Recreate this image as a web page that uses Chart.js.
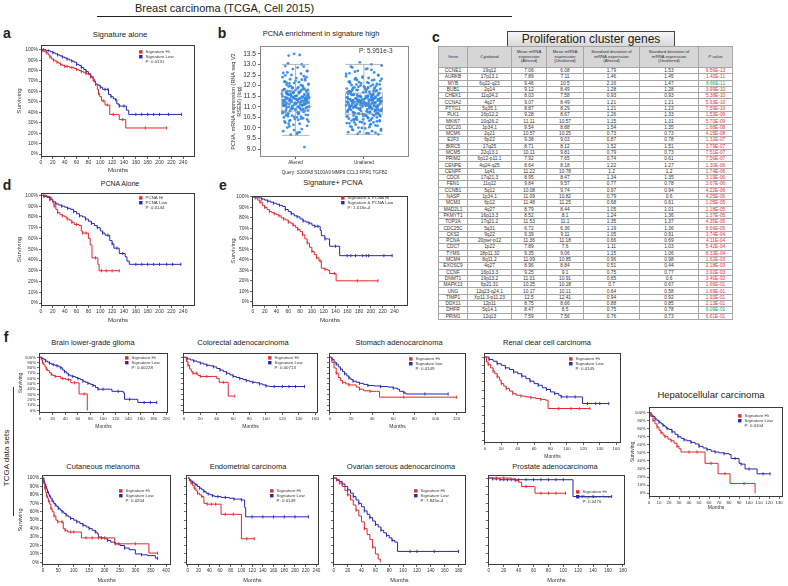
<!DOCTYPE html>
<html>
<head>
<meta charset="utf-8">
<title>Proliferation signature and survival</title>
<script src="https://cdn.jsdelivr.net/npm/chart.js@4.4.1/dist/chart.umd.min.js"></script>
<style>
  html, body { margin: 0; padding: 0; background: #fff; }
  body { position: relative; width: 788px; height: 586px; overflow: hidden;
         font-family: "Liberation Sans", Arial, sans-serif; color: #222; }
  canvas { position: absolute; }
  .txt { position: absolute; white-space: nowrap; line-height: 1; }
  .letter { font-weight: bold; }
  #title-line { position: absolute; left: 97px; top: 16px; width: 415px; height: 1px; background: #222; }
  #tcga-line { position: absolute; left: 13px; top: 387px; width: 1px; height: 129px; background: #333; }
  #genes-head { position: absolute; left: 507px; top: 31px; width: 166px; height: 15px;
                border: 1px solid #444; background: linear-gradient(#f6f6f6, #d6d6d6);
                font-size: 12px; text-align: center; line-height: 15px; }
  #tbl { position: absolute; left: 438px; top: 46px; width: 294px; border-collapse: collapse;
         table-layout: fixed; color: #333; }
  #tbl th, #tbl td { border: 1px solid #a6a6a6; padding: 0; text-align: center; overflow: hidden; }
  #tbl th { background: #d6d6d6; font-weight: normal; font-size: 4.3px; line-height: 4.8px; }
  #tbl td { font-size: 4.8px; line-height: 5px; white-space: nowrap; }
  #tbl tr.head { height: 21px; }
  #tbl tr.row { height: 6.3px; }
  #tbl td.up { color: #e8323c; }
  #tbl td.down { color: #27a548; }
</style>
</head>
<body>
<div id="title-line"></div>
<div id="tcga-line"></div>
<div id="genes-head">Proliferation cluster genes</div>
<table id="tbl">
  <colgroup>
    <col style="width:29px"><col style="width:44px"><col style="width:35px"><col style="width:37px">
    <col style="width:56px"><col style="width:59px"><col style="width:34px">
  </colgroup>
  <thead>
    <tr class="head">
      <th>Gene</th><th>Cytoband</th>
      <th>Mean mRNA<br>expression<br>(Altered)</th>
      <th>Mean mRNA<br>expression<br>(Unaltered)</th>
      <th>Standard deviation of<br>mRNA expression<br>(Altered)</th>
      <th>Standard deviation of<br>mRNA expression<br>(Unaltered)</th>
      <th><i>P</i> value</th>
    </tr>
  </thead>
  <tbody id="tbody"></tbody>
</table>
<script>
/* ---- Table c: proliferation cluster genes ---- */
const genes = ['CCNE1','AURKB','MYB','BUB1','CHEK1','CCNA2','PTTG1','PLK1','MKI67','CDC20',
  'MCM6','E2F3','BIRC5','MCM5','PRIM2','CENPE','CENPF','CDC6','FEN1','CCNB1',
  'NASP','MCM3','MAD2L1','PKMYT1','TOP2A','CDC25C','CKS2','PCNA','CDC7','TYMS',
  'MCM4','EXOSC9','CCNF','DNMT1','MAPK13','UNG','TIMP1','DDX11','DHFR','PRIM1'];
const cytobands = ['19q12','17p13.1','6q22-q23','2q14','11q24.2','4q27','5q35.1','16p12.2','10q26.2','1p34.1',
  '2q21','6p22','17q25','22q13.1','6p12-p11.1','4q24-q25','1q41','17q21.3','11q12','5q12',
  '1p34.1','6p12','4q27','16p13.3','17q21.2','5q31','9q22','20pter-p12','1p22','18p11.32',
  '8q11.2','4q27','16p13.3','19p13.2','6p21.31','12q23-q24.1','Xp11.3-p11.23','12p11','5q14.1','12q13'];
const meanAltered = [7.06,7.89,9.46,9.12,8.03,9.07,8.87,9.28,11.11,9.54,
  10.57,9.38,8.71,10.11,7.92,8.64,11.22,8.95,9.84,10.08,
  11.09,11.48,8.79,8.52,11.53,6.72,9.39,11.36,7.89,9.35,
  11.09,8.96,9.25,11.01,10.25,10.17,12.5,8.75,8.47,7.59];
const meanUnaltered = [6.08,7.11,10.5,8.49,7.58,8.49,8.29,8.67,10.57,8.88,
  10.25,9.03,8.12,9.81,7.65,8.18,10.78,8.47,9.57,9.74,
  10.82,11.25,8.44,8.1,11.1,6.36,9.11,11.18,7.6,9.06,
  10.85,8.84,9.1,10.91,10.18,10.11,12.41,8.66,8.5,7.56];
const sdAltered = [1.79,1.46,2.16,1.28,0.93,1.21,1.21,1.26,1.15,1.54,
  0.73,0.87,1.52,0.79,0.74,1.22,1.2,1.34,0.77,0.97,
  0.79,0.68,1.05,1.24,1.35,1.19,1.05,0.66,1.11,1.15,
  0.96,0.51,0.75,0.65,0.7,0.64,0.94,0.88,0.75,0.76];
const sdUnaltered = [1.53,1.45,1.47,1.28,0.93,1.21,1.23,1.33,1.31,1.35,
  0.73,0.78,1.51,0.73,0.61,1.27,1.2,1.35,0.78,0.94,
  0.6,0.61,1.01,1.36,1.37,1.36,0.91,0.69,1.03,1.06,
  0.98,0.44,0.77,0.6,0.67,0.58,0.92,0.85,0.78,0.73];
const pValues = ['9.56E-13','1.43E-11','8.66E-11','3.99E-10','5.38E-10','5.93E-10','7.59E-10','1.53E-09','5.70E-09','1.68E-08',
  '4.15E-08','1.32E-07','3.79E-07','7.51E-07','7.56E-07','1.30E-06','1.74E-06','3.19E-06','3.67E-06','4.22E-06',
  '4.25E-06','1.05E-05','1.18E-05','1.37E-05','4.35E-05','8.66E-05','3.74E-04','4.11E-04','5.42E-04','8.33E-04',
  '1.62E-03','2.18E-03','3.92E-03','3.40E-02','1.66E-01','1.69E-01','1.92E-01','2.13E-01','6.09E-01','6.61E-01'];

/* ---- Panel b: PCNA expression, altered vs unaltered ---- */
const bCategories = ['Altered', 'Unaltered'];
const bYTicks = [9.0, 9.5, 10.0, 10.5, 11.0, 11.5, 12.0, 12.5, 13.0, 13.5];
const bQuery = 'Query: S100A8 S100A9 MMP9 CCL3 FPR1 TGFB2';
const alteredY = [9.1,9.68,9.72,9.85,9.95,10.02,10.1,10.15,10.2,10.25,
  10.3,10.34,10.38,10.42,10.46,10.5,10.54,10.58,10.62,10.66,
  10.7,10.73,10.76,10.79,10.82,10.85,10.88,10.91,10.94,10.97,
  11.0,11.02,11.05,11.08,11.1,11.12,11.15,11.17,11.2,11.22,
  11.24,11.26,11.28,11.3,11.32,11.34,11.36,11.38,11.4,11.42,
  11.44,11.46,11.48,11.5,11.52,11.54,11.57,11.6,11.62,11.65,
  11.68,11.7,11.73,11.76,11.79,11.82,11.85,11.88,11.92,11.96,
  12.0,12.04,12.08,12.12,12.16,12.2,12.25,12.3,12.35,12.4,
  12.45,12.5,12.56,12.62,12.7,12.78,12.85,12.92,13.0,13.42,
  13.45,13.5,11.25,11.05,10.9,11.6,11.35,10.6,11.8,12.1,
  10.31,10.44,10.52,10.61,10.68,10.72,10.77,10.81,10.86,10.9,
  10.93,10.96,10.99,11.01,11.03,11.06,11.09,11.11,11.13,11.16,
  11.18,11.19,11.21,11.23,11.25,11.27,11.29,11.31,11.33,11.35,
  11.37,11.39,11.41,11.43,11.45,11.47,11.49,11.51,11.53,11.56,
  11.58,11.61,11.64,11.67,11.71,11.74,11.78,11.83,11.87,11.93,
  11.98,12.05,12.14,12.22,12.33,10.08,9.8,12.6,12.9,9.9,
  10.4,10.55,10.65,10.75,10.84,10.92,11.0,11.07,11.14,11.2,
  11.26,11.32,11.38,11.44,11.5,11.55,11.63,11.69,11.76,11.84,
  11.9,12.02,12.18,12.4,10.2,10.5,11.1,11.3,11.45,11.6,
  10.95,11.15,11.4,11.7,12.28,10.36,12.68,12.48,9.78,13.05];
const alteredJitter = [0.13,-0.07,0.02,-0.18,0.09,-0.12,0.17,-0.03,0.06,-0.15,
  0.19,-0.09,0.04,-0.01,0.11,-0.17,0.08,-0.05,0.15,-0.11,
  -0.19,0.03,0.12,-0.08,0.18,-0.14,0.0,0.07,-0.04,0.16,
  -0.1,0.05,-0.16,0.1,-0.02,0.14,-0.13,0.01,0.19,-0.06,
  0.08,-0.18,0.12,-0.09,0.03,-0.15,0.17,-0.01,0.06,-0.12,
  0.15,-0.04,0.09,-0.19,0.02,-0.07,0.13,-0.11,0.18,-0.03,
  -0.14,0.07,-0.08,0.16,0.0,-0.17,0.11,-0.05,0.04,-0.1,
  0.1,-0.13,0.19,-0.02,0.05,-0.16,0.14,-0.08,0.01,-0.19,
  0.12,-0.06,0.08,-0.12,0.17,-0.04,0.03,-0.15,0.09,-0.1,
  0.06,-0.02,0.15,-0.18,0.11,-0.07,0.02,-0.14,0.18,-0.09,
  -0.16,0.08,-0.02,0.18,-0.11,0.05,-0.19,0.13,0.0,-0.07,
  0.15,-0.13,0.03,0.19,-0.05,0.1,-0.17,0.07,-0.09,0.16,
  -0.01,0.12,-0.14,0.04,0.17,-0.08,0.09,-0.18,0.02,0.14,
  -0.12,0.06,-0.03,0.2,-0.15,0.11,-0.06,0.01,0.18,-0.1,
  0.13,-0.2,0.05,-0.04,0.16,-0.12,0.08,-0.16,0.03,0.11,
  -0.07,0.19,-0.13,0.0,0.14,-0.09,0.06,-0.18,0.12,-0.02,
  0.17,-0.11,0.04,-0.15,0.09,-0.05,0.2,-0.14,0.01,0.07,
  -0.17,0.15,-0.08,0.1,-0.01,0.18,-0.12,0.05,-0.19,0.13,
  -0.04,0.08,-0.16,0.16,-0.1,0.02,0.12,-0.06,0.19,-0.13,
  0.06,-0.18,0.14,-0.03,0.09,-0.08,0.17,-0.15,0.03,-0.11];
const unalteredY = [9.7,9.72,9.75,9.8,9.85,9.9,9.95,10.0,10.04,10.08,
  10.12,10.16,10.2,10.23,10.26,10.29,10.32,10.35,10.38,10.41,
  10.44,10.47,10.5,10.52,10.55,10.58,10.6,10.63,10.66,10.68,
  10.7,10.73,10.75,10.78,10.8,10.83,10.85,10.88,10.9,10.92,
  10.95,10.97,11.0,11.02,11.04,11.06,11.08,11.1,11.12,11.14,
  11.16,11.18,11.2,11.22,11.24,11.26,11.28,11.3,11.32,11.34,
  11.36,11.38,11.4,11.42,11.44,11.46,11.48,11.5,11.53,11.56,
  11.59,11.62,11.65,11.68,11.71,11.74,11.77,11.8,11.83,11.86,
  11.9,11.94,11.98,12.02,12.06,12.1,12.15,12.2,12.25,12.3,
  12.36,12.42,12.48,12.55,12.62,12.7,12.78,12.86,12.95,13.1,
  10.4,10.65,10.85,11.05,11.15,11.25,11.35,11.55,11.7,11.9,
  10.1,10.95,11.45,12.0,9.78,10.55,11.1,11.6,12.35,11.0,
  10.05,10.18,10.27,10.36,10.43,10.49,10.54,10.59,10.64,10.69,
  10.72,10.76,10.79,10.82,10.86,10.89,10.91,10.94,10.96,10.99,
  11.01,11.03,11.05,11.07,11.09,11.11,11.13,11.15,11.17,11.19,
  11.21,11.23,11.25,11.27,11.29,11.31,11.33,11.35,11.37,11.39,
  11.41,11.43,11.47,11.51,11.54,11.58,11.61,11.66,11.7,11.75,
  11.79,11.84,11.88,11.93,11.99,12.05,12.12,12.18,12.27,12.38,
  12.5,12.66,12.8,12.9,13.0,9.82,9.88,9.93,9.98,10.14,
  10.22,10.31,10.39,10.46,10.57,10.61,10.71,10.74,10.81,10.87,
  10.93,10.98,11.02,11.06,11.1,11.14,11.18,11.22,11.26,11.3,
  11.34,11.38,11.42,11.46,11.52,11.57,11.64,11.72,11.81,11.92,
  12.04,12.16,12.32,12.58,10.34,10.66,10.84,11.0,11.12,11.24,
  11.36,11.49,11.62,11.78,11.96,12.22,10.48,10.77,11.08,11.2,
  11.28,11.44,11.68,12.08,10.26,10.56,10.9,11.16,11.32,11.56,
  11.86,12.44,9.74,10.02,10.62,11.04,11.4,11.74,12.12,12.74,
  10.41,10.8,11.07,11.33,11.6,11.9,12.26,10.7,11.19,11.5];
const unalteredJitter = [0.21,-0.09,0.04,-0.23,0.12,-0.16,0.25,-0.03,0.08,-0.2,
  0.17,-0.12,0.01,-0.25,0.14,-0.06,0.23,-0.18,0.1,-0.01,
  -0.22,0.06,0.19,-0.11,0.24,-0.15,0.02,0.13,-0.07,0.2,
  -0.13,0.09,-0.24,0.16,-0.04,0.22,-0.19,0.05,0.26,-0.08,
  0.11,-0.21,0.18,-0.14,0.03,-0.26,0.15,-0.02,0.07,-0.17,
  0.24,-0.05,0.12,-0.23,0.0,-0.1,0.2,-0.16,0.09,-0.03,
  -0.2,0.14,-0.12,0.25,0.04,-0.24,0.17,-0.07,0.06,-0.15,
  0.13,-0.19,0.22,-0.01,0.08,-0.22,0.19,-0.11,0.02,-0.25,
  0.16,-0.08,0.1,-0.18,0.23,-0.04,0.05,-0.21,0.12,-0.13,
  0.07,-0.02,0.21,-0.26,0.15,-0.09,0.03,-0.17,0.26,-0.06,
  -0.14,0.18,-0.23,0.09,0.0,0.24,-0.1,0.13,-0.2,0.06,
  0.2,-0.16,0.11,-0.05,0.17,-0.24,0.01,0.22,-0.12,0.08,
  -0.18,0.1,-0.03,0.23,-0.12,0.06,-0.25,0.15,0.01,-0.08,
  0.19,-0.16,0.04,0.25,-0.06,0.12,-0.21,0.08,-0.11,0.2,
  -0.02,0.15,-0.18,0.05,0.22,-0.1,0.11,-0.23,0.03,0.17,
  -0.14,0.07,-0.04,0.26,-0.19,0.13,-0.07,0.0,0.23,-0.12,
  0.16,-0.25,0.06,-0.05,0.2,-0.15,0.09,-0.2,0.03,0.14,
  -0.09,0.24,-0.16,0.01,0.18,-0.11,0.07,-0.22,0.15,-0.02,
  0.21,-0.13,0.05,-0.19,0.11,-0.06,0.25,-0.17,0.02,0.09,
  -0.21,0.19,-0.1,0.12,-0.01,0.23,-0.15,0.06,-0.24,0.16,
  -0.05,0.1,-0.2,0.2,-0.12,0.03,0.15,-0.08,0.24,-0.16,
  0.07,-0.23,0.17,-0.04,0.11,-0.1,0.22,-0.19,0.04,-0.14,
  0.13,-0.07,0.26,-0.21,0.08,-0.02,0.18,-0.13,0.05,-0.25,
  0.21,-0.09,0.14,-0.17,0.0,0.24,-0.11,0.09,-0.22,0.16,
  -0.06,0.12,-0.24,0.19,-0.14,0.04,0.2,-0.03,0.1,-0.18,
  0.15,-0.26,0.07,-0.08,0.23,-0.12,0.02,0.17,-0.2,0.11,
  -0.15,0.25,-0.05,0.13,-0.23,0.06,-0.1,0.21,-0.17,0.03];
const boxLow = [9.65, 9.7];
const boxQ1 = [10.8, 10.65];
const boxMedian = [11.22, 11.12];
const boxQ3 = [11.75, 11.65];
const boxHigh = [13.0, 13.0];

/* ---- Kaplan-Meier curves: [months, % surviving, 1 = censored] ---- */
const pctTicks = [0, 10, 20, 30, 40, 50, 60, 70, 80, 90, 100];
const ticks240by20 = [0, 20, 40, 60, 80, 100, 120, 140, 160, 180, 200, 220, 240];
const ticks200by20 = [0, 20, 40, 60, 80, 100, 120, 140, 160, 180, 200];
const ticks160by20 = [0, 20, 40, 60, 80, 100, 120, 140, 160];
const ticks120by20 = [0, 20, 40, 60, 80, 100, 120];
const ticks180by20 = [0, 20, 40, 60, 80, 100, 120, 140, 160, 180];
const ticks130by10 = [0, 10, 20, 30, 40, 50, 60, 70, 80, 90, 100, 110, 120, 130];
const ticks400by50 = [0, 50, 100, 150, 200, 250, 300, 350, 400];

const aHi = [[0,100],[3,99,1],[6,98],[9,97,1],[12,95],[15,93,1],[18,91],[21,90,1],[24,89],[27,88,1],
  [30,87],[33,86,1],[36,85],[40,84,1],[44,84,1],[48,83],[52,83,1],[56,82],[60,81,1],[64,80],
  [68,79,1],[72,78],[76,77,1],[80,76],[84,74,1],[88,72],[90,69],[92,67,1],[95,62],[97,58,1],
  [99,55],[102,51],[105,51,1],[108,47],[112,47,1],[116,38],[122,38,1],[126,38],[132,33],[138,33,1],
  [143,25],[176,25,1],[212,25,1]];
const aLow = [[0,100],[4,100,1],[8,99],[12,99,1],[16,98],[20,97,1],[24,96],[28,95,1],[32,94],[36,93,1],
  [40,92],[44,91,1],[48,90],[52,89,1],[56,88],[60,86,1],[64,85],[68,83,1],[72,81],[76,79,1],
  [80,77],[84,74,1],[88,70],[92,67,1],[96,66],[100,64,1],[104,62],[108,62,1],[113,62,1],[114,57],
  [118,55,1],[122,53],[126,52,1],[128,48],[132,46,1],[140,46,1],[144,42],[148,38],[160,38,1],[170,38,1],
  [180,38,1],[190,38,1],[200,38,1],[215,38,1],[237,38,1]];
const dHi = [[0,100],[5,100,1],[10,99],[15,98,1],[18,96],[20,93],[22,90,1],[25,87],[28,84,1],[32,82],
  [36,81,1],[40,80],[44,78,1],[48,77],[52,75,1],[56,73],[60,73,1],[64,72],[68,67],[70,65,1],
  [76,65,1],[80,60],[83,54],[86,42],[92,42,1],[96,36],[98,30],[102,30,1],[110,30,1],[120,30,1],[132,30,1]];
const dLow = [[0,100],[5,99,1],[10,98],[15,96,1],[20,94],[25,92,1],[30,91],[35,90,1],[40,89],[45,88,1],
  [50,87],[55,85,1],[60,83],[65,81,1],[70,80],[75,78,1],[80,76],[85,74,1],[90,72],[95,70,1],
  [100,67],[104,65,1],[108,63],[113,63,1],[116,58],[120,55,1],[123,51],[128,51,1],[132,46],[138,46,1],
  [142,43],[145,39],[149,36],[160,36,1],[170,36,1],[180,36,1],[190,36,1],[200,36,1],[212,36,1],[222,36,1],[236,36,1]];
const eHi = [[0,100],[4,99,1],[8,97],[12,95,1],[16,92],[20,90,1],[24,88],[28,86,1],[32,85],[36,84,1],
  [40,83],[44,82,1],[48,80],[52,79,1],[56,78],[60,76,1],[64,75],[68,73,1],[72,71],[76,69,1],
  [80,67],[84,64,1],[88,60],[92,56,1],[96,52],[100,48,1],[104,45],[108,42,1],[112,39],[114,39,1],
  [116,32],[122,31,1],[127,30],[130,27],[138,27,1],[141,20],[177,20,1],[212,20,1]];
const eLow = [[0,100],[5,100,1],[10,99],[15,98,1],[20,97],[25,96,1],[30,95],[35,94,1],[40,93],[45,92,1],
  [50,91],[55,88,1],[60,86],[65,84,1],[70,82],[75,81,1],[80,79],[85,77,1],[90,76],[95,75,1],
  [100,73],[105,72,1],[110,72,1],[114,68],[116,63],[122,60,1],[126,60],[130,53],[140,53,1],[144,53],
  [147,44],[160,44,1],[166,44,1],[174,44,1],[186,44,1],[192,44,1],[196,44,1],[222,44,1],[236,44,1]];
const brainHi = [[0,100],[2,95],[4,90,1],[6,86],[8,82],[10,78,1],[12,75],[15,71],[18,68,1],[20,66],
  [24,64,1],[28,64],[33,60],[36,60,1],[41,58],[45,58,1],[49,52],[55,52,1],[62,31],[70,31,1],[75,0]];
const brainLow = [[0,100],[3,98,1],[6,96],[9,93,1],[12,91],[15,89,1],[18,87],[21,86,1],[24,85],[27,84,1],
  [30,82],[33,80,1],[36,76],[39,73,1],[42,70],[45,67,1],[48,65],[52,64,1],[56,62],[60,60,1],
  [64,58],[68,55,1],[72,53],[76,51,1],[80,49],[84,47,1],[88,43],[92,40,1],[100,40,1],[112,40],
  [114,36],[124,36,1],[132,33],[134,21],[142,21,1],[152,21],[155,15],[165,15,1],[175,15,1],[185,15,1]];
const colorectalHi = [[0,100],[3,92],[5,85,1],[7,78],[9,73],[11,70,1],[15,70,1],[17,66],[20,64,1],[28,64,1],
  [36,64],[40,60],[43,53],[48,53,1],[53,53],[54,27],[62,27,1]];
const colorectalLow = [[0,100],[4,97,1],[8,95],[12,93,1],[16,91],[20,89,1],[24,87],[28,85,1],[32,84],[36,82,1],
  [40,79],[44,76,1],[48,73],[52,70,1],[56,67],[60,64,1],[64,62],[68,60,1],[72,58],[76,56,1],
  [80,54],[84,53,1],[88,52],[92,50,1],[96,48],[100,46,1],[104,45],[110,45,1],[120,45,1],[128,45,1],
  [136,45,1],[147,45,1]];
const stomachHi = [[0,100],[2,90],[4,80],[6,70,1],[8,62],[10,56],[12,53,1],[15,50],[18,48,1],[22,48],
  [25,44],[28,40,1],[32,37],[38,36,1],[44,36],[47,25],[70,25,1],[120,25,1]];
const stomachLow = [[0,100],[2,96,1],[4,91],[6,87,1],[8,82],[10,78,1],[12,73],[14,69,1],[16,65],[18,61,1],
  [20,58],[22,55,1],[25,53],[28,51,1],[32,49],[36,47,1],[42,46],[48,45,1],[55,44],[60,42,1],
  [64,40],[66,36],[70,33,1],[72,31],[90,31,1],[112,31,1]];
const renalHi = [[0,100],[2,94],[4,91,1],[7,87],[10,83,1],[12,80],[15,76,1],[18,72],[20,68,1],[23,65],
  [26,62,1],[30,59],[34,56,1],[38,54],[44,53,1],[50,52],[56,51,1],[62,50],[68,49,1],[74,48],
  [77,38],[90,38,1],[105,38,1],[115,38,1],[128,38,1]];
const renalLow = [[0,100],[5,97,1],[10,95],[15,92,1],[20,90],[25,87,1],[30,85],[35,82,1],[40,80],[45,77,1],
  [50,74],[55,71,1],[60,68],[65,66,1],[70,63],[75,61,1],[80,58],[85,56,1],[90,54],[93,52,1],
  [100,52,1],[110,52,1],[118,52],[119,44],[125,44,1],[135,44,1],[140,44,1],[151,44,1]];
const liverHi = [[0,100],[2,95],[4,90,1],[6,86],[8,82,1],[10,78],[12,75,1],[14,72],[16,70,1],[19,67],
  [22,65,1],[25,62],[28,58,1],[30,55],[32,51],[40,51,1],[48,51,1],[55,51],[56,37],[62,37,1],
  [68,37],[69,24],[76,24,1],[81,12],[95,12,1],[105,12],[106,0]];
const liverLow = [[0,100],[2,97,1],[4,95],[6,92,1],[8,90],[10,88,1],[12,86],[14,84,1],[16,82],[18,80,1],
  [20,79],[23,76,1],[26,73],[29,70,1],[32,68],[35,66,1],[38,65],[42,63,1],[46,61],[50,58,1],
  [54,56],[58,54,1],[62,52],[66,51,1],[70,50],[75,49,1],[80,48],[82,43],[86,43,1],[90,37],
  [92,36,1],[96,30],[100,30,1],[105,30],[108,24],[114,24,1],[121,24,1]];
const melanomaHi = [[0,100],[3,93],[6,88,1],[9,83],[12,79,1],[15,76],[18,73,1],[22,69],[26,64,1],[30,60],
  [36,55,1],[42,50],[48,48,1],[56,48],[62,48,1],[66,40],[72,38,1],[80,36],[90,36,1],[100,36,1],
  [115,36],[125,29],[140,29,1],[160,29,1],[180,29,1],[200,29,1],[230,29],[233,22],[245,22,1],[300,22,1],
  [341,22],[344,11],[372,11,1]];
const melanomaLow = [[0,100],[3,96,1],[6,93],[9,90,1],[12,87],[15,84,1],[18,81],[21,79,1],[25,76],[30,73,1],
  [35,70],[40,68,1],[45,66],[50,64,1],[56,62],[62,60,1],[68,58],[75,56,1],[82,54],[90,52,1],
  [100,50],[110,48,1],[120,46],[130,44,1],[140,42],[150,40,1],[160,38],[170,36,1],[176,34],[180,30],
  [190,29,1],[200,28],[210,26,1],[220,24],[235,22,1],[250,20],[265,17,1],[280,15],[300,10],[320,9,1],
  [340,8],[365,5],[372,5,1]];
const endometrialHi = [[0,100],[3,97],[6,94,1],[9,91],[12,88,1],[15,85],[18,82,1],[22,80],[26,78,1],[30,70],
  [36,69,1],[44,69,1],[52,69,1],[60,69],[62,57],[70,57,1],[85,57,1],[99,57],[100,28],[110,28,1],[124,28,1]];
const endometrialLow = [[0,100],[3,98,1],[6,96],[9,95,1],[12,93],[15,92,1],[18,90],[22,88,1],[26,86],[30,84,1],
  [34,82],[38,81,1],[42,80],[46,79,1],[50,78],[56,78,1],[62,77],[70,77,1],[78,76],[86,75,1],
  [94,75],[100,74,1],[104,74],[106,65],[108,54],[120,54,1],[140,54,1],[160,54,1],[180,54,1],[200,54,1],[225,54,1]];
const ovarianHi = [[0,100],[4,97],[8,94,1],[12,90],[16,85],[20,80,1],[24,74],[28,68],[32,62,1],[36,55],
  [40,48],[44,40,1],[48,33],[52,27],[56,18,1],[60,10],[64,4],[67,0]];
const ovarianLow = [[0,100],[4,98,1],[8,96],[12,93,1],[16,90],[20,86,1],[24,82],[28,78,1],[32,74],[36,70,1],
  [40,66],[44,61,1],[48,57],[52,53,1],[56,49],[60,45,1],[64,42],[68,38,1],[72,35],[76,32,1],
  [80,29],[84,26,1],[88,24],[92,13],[110,13,1],[120,13,1],[145,13,1],[180,13,1]];
const prostateHi = [[0,100],[10,100,1],[20,100,1],[30,99],[36,97,1],[40,95],[44,90],[50,90,1],[61,90],[62,82],
  [70,82,1],[80,82,1],[90,82,1],[103,82,1]];
const prostateLow = [[0,100],[5,99,1],[10,99,1],[15,98,1],[20,98,1],[25,98,1],[30,98,1],[35,98,1],[40,98,1],[50,98,1],
  [60,98,1],[70,98,1],[80,98,1],[90,98,1],[100,98,1],[112,98],[113,78],[125,78,1],[140,78,1],[165,78,1]];

/* ------------------------------------------------------------------ */
/*  Shared helpers                                                     */
/* ------------------------------------------------------------------ */

const HI = '#e2262b';
const LOW = '#2626b4';
const FONT = '"Liberation Sans", Arial, sans-serif';
Chart.defaults.font.family = FONT;
Chart.defaults.color = '#333';

function addText(text, x, y, size, opts = {}) {
  const el = document.createElement('div');
  el.className = 'txt' + (opts.bold ? ' letter' : '');
  el.textContent = text;
  el.style.fontSize = size + 'px';
  el.style.left = x + 'px';
  el.style.top = y + 'px';
  const tx = opts.left ? '0' : '-50%';
  el.style.transform = `translate(${tx}, -50%)` + (opts.rotate ? ` rotate(${opts.rotate}deg)` : '');
  document.body.appendChild(el);
}

// canvas whose chart area lands on box [left, top, right, bottom]
function place(box, yw, xh) {
  const c = document.createElement('canvas');
  const left = box[0] - yw, top = box[1] - 1;
  c.width = box[2] - left + 1;
  c.height = box[3] + xh - top;
  c.style.left = left + 'px';
  c.style.top = top + 'px';
  document.body.appendChild(c);
  return c;
}

const framePlugin = {
  id: 'frame',
  afterDatasetsDraw(chart, args, o) {
    const { ctx, chartArea: a } = chart;
    ctx.save();
    ctx.strokeStyle = o.color || '#3a3a3a';
    ctx.lineWidth = 1;
    ctx.strokeRect(Math.round(a.left) + 0.5, Math.round(a.top) + 0.5,
      Math.round(a.width) - 1, Math.round(a.height) - 1);
    ctx.restore();
  }
};

const legendPlugin = {
  id: 'kmLegend',
  afterDraw(chart, args, o) {
    if (!o.items) return;
    const { ctx, chartArea: a } = chart;
    const x0 = a.right - o.right, y0 = a.top + o.top;
    ctx.save();
    ctx.font = o.size + 'px ' + FONT;
    ctx.textBaseline = 'middle';
    o.items.forEach((it, i) => {
      const y = y0 + i * o.lh;
      if (it.color) {
        ctx.fillStyle = it.color;
        ctx.fillRect(x0, y - 1.7, 3.4, 3.4);
      }
      ctx.fillStyle = '#333';
      ctx.fillText(it.text, x0 + (o.indent !== undefined ? o.indent : 6.5), y);
    });
    ctx.restore();
  }
};

const boxPlugin = {
  id: 'boxes',
  afterDatasetsDraw(chart, args, o) {
    if (!o.half) return;
    const { ctx, scales: { x, y } } = chart;
    ctx.save();
    ctx.strokeStyle = 'rgba(150,150,150,0.85)';
    ctx.lineWidth = 0.8;
    bCategories.forEach((_, i) => {
      const l = x.getPixelForValue(i - o.half[i]), r = x.getPixelForValue(i + o.half[i]);
      const c = x.getPixelForValue(i);
      const q1 = y.getPixelForValue(boxQ1[i]), q3 = y.getPixelForValue(boxQ3[i]);
      const md = y.getPixelForValue(boxMedian[i]);
      const lo = y.getPixelForValue(boxLow[i]), hi = y.getPixelForValue(boxHigh[i]);
      ctx.strokeRect(l, q3, r - l, q1 - q3);
      ctx.beginPath();
      ctx.moveTo(l, md); ctx.lineTo(r, md);
      ctx.moveTo(c, q3); ctx.lineTo(c, hi);
      ctx.moveTo(c, q1); ctx.lineTo(c, lo);
      ctx.moveTo(l, hi); ctx.lineTo(r, hi);
      ctx.moveTo(l, lo); ctx.lineTo(r, lo);
      ctx.stroke();
    });
    ctx.restore();
  }
};

const axisGrid = { drawOnChartArea: false, drawTicks: true, tickLength: 2, color: '#444', lineWidth: 0.8 };

function curve(points, color) {
  return {
    data: points.map(p => ({ x: p[0], y: p[1], c: p[2] === 1 })),
    borderColor: color,
    borderWidth: 1,
    stepped: true,
    fill: false,
    pointStyle: 'line',
    pointRotation: 90,
    pointRadius: ctx => (ctx.raw && ctx.raw.c ? 1.6 : 0),
    pointBorderColor: color,
    pointBackgroundColor: color,
    pointBorderWidth: 0.9
  };
}

/* ------------------------------------------------------------------ */
/*  Kaplan-Meier panel                                                 */
/* ------------------------------------------------------------------ */

function kmChart(box, yw, xh, o) {
  return new Chart(place(box, yw, xh), {
    type: 'line',
    data: { datasets: [curve(o.hi, HI), curve(o.low, LOW)] },
    options: {
      responsive: false,
      animation: false,
      events: [],
      layout: { padding: { top: 1, right: 1 } },
      plugins: {
        legend: { display: false },
        tooltip: { enabled: false },
        frame: { color: '#3a3a3a' },
        kmLegend: {
          right: o.legend[0], top: o.legend[1], size: 4.4, lh: 4.8,
          items: [{ color: HI, text: o.labels[0] }, { color: LOW, text: o.labels[1] }, { text: o.labels[2] }]
        }
      },
      scales: {
        x: {
          type: 'linear', min: o.x[0], max: o.x[1],
          afterBuildTicks: s => { s.ticks = o.xTicks.map(v => ({ value: v })); },
          afterFit: s => { s.height = xh; s.paddingLeft = 0; s.paddingRight = 0; },
          ticks: { callback: v => String(v), font: { size: o.font }, padding: 1, maxRotation: 0, autoSkip: false },
          grid: axisGrid,
          border: { display: false },
          title: { display: true, text: 'Months', font: { size: o.titleFont }, padding: 0 }
        },
        y: {
          min: o.y[0], max: o.y[1],
          afterBuildTicks: s => { s.ticks = pctTicks.map(v => ({ value: v })); },
          afterFit: s => { s.width = yw; s.paddingTop = 0; s.paddingBottom = 0; },
          ticks: { display: o.yLabels, callback: v => v + '%', font: { size: o.font }, padding: 1, autoSkip: false },
          grid: axisGrid,
          border: { display: false },
          title: { display: o.yLabels, text: 'Surviving', font: { size: o.titleFont }, padding: 0 }
        }
      }
    },
    plugins: [framePlugin, legendPlugin]
  });
}

/* ------------------------------------------------------------------ */
/*  Static text                                                        */
/* ------------------------------------------------------------------ */

addText('Breast carcinoma (TCGA, Cell 2015)', 135, 8, 11, { left: true });
addText('a', 7, 33, 14, { bold: true });
addText('b', 222, 33, 14, { bold: true });
addText('c', 436, 37, 14, { bold: true });
addText('d', 7, 185, 14, { bold: true });
addText('e', 223, 185, 14, { bold: true });
addText('f', 6, 337, 14, { bold: true });
addText('Signature alone', 120, 35, 7.8);
addText('PCNA enrichment in signature high', 321, 34, 7.5);
addText('PCNA Alone', 120, 183, 7);
addText('Signature+ PCNA', 333, 183, 7.5);
addText('Brain lower-grade glioma', 93, 343, 7.5);
addText('Colorectal adenocarcinoma', 243, 343, 7.5);
addText('Stomach adenocarcinoma', 399, 343, 7.5);
addText('Renal clear cell carcinoma', 547, 343, 7.5);
addText('Hepatocellular carcinoma', 711, 395, 9.5);
addText('Cutaneous melanoma', 103, 467, 7.5);
addText('Endometrial carcinoma', 248, 467, 7.5);
addText('Ovarian serous adenocarcinoma', 401, 467, 7.5);
addText('Prostate adenocarcinoma', 555, 467, 7.5);
addText('TCGA data sets', 7, 458, 8, { rotate: -90 });

/* ---- Table rows ---- */
document.getElementById('tbody').innerHTML = genes.map((g, i) => {
  const dir = meanAltered[i] < meanUnaltered[i] ? 'down' : 'up';
  return `<tr class="row"><td>${g}</td><td>${cytobands[i]}</td><td>${meanAltered[i]}</td>` +
    `<td>${meanUnaltered[i]}</td><td>${sdAltered[i]}</td><td>${sdUnaltered[i]}</td>` +
    `<td class="${dir}">${pValues[i]}</td></tr>`;
}).join('');

/* ------------------------------------------------------------------ */
/*  Panel b: jittered expression with box plots                        */
/* ------------------------------------------------------------------ */

new Chart(place([260, 43, 412, 157], 32, 18), {
  type: 'scatter',
  data: {
    datasets: [
      { data: alteredY.map((v, i) => ({ x: 0 + alteredJitter[i], y: v })) },
      { data: unalteredY.map((v, i) => ({ x: 1 + unalteredJitter[i], y: v })) }
    ]
  },
  options: {
    responsive: false,
    animation: false,
    events: [],
    layout: { padding: { top: 1, right: 1 } },
    elements: { point: { radius: 1.4, borderWidth: 0, backgroundColor: 'rgba(45,135,228,0.9)' } },
    plugins: {
      legend: { display: false },
      tooltip: { enabled: false },
      frame: { color: '#8a8a8a' },
      boxes: { half: [0.2, 0.27] },
      kmLegend: { right: 50, top: 5, size: 6.5, lh: 7, indent: 0, items: [{ text: 'P: 5.951e-3' }] }
    },
    scales: {
      x: {
        type: 'linear', min: -0.52, max: 1.66,
        afterBuildTicks: s => { s.ticks = bCategories.map((_, i) => ({ value: i })); },
        afterFit: s => { s.height = 18; s.paddingLeft = 0; s.paddingRight = 0; },
        ticks: { callback: (v, i) => bCategories[i], font: { size: 4.6 }, padding: 1, maxRotation: 0 },
        grid: axisGrid,
        border: { display: false },
        title: { display: true, text: bQuery, font: { size: 4.6 }, padding: 0 }
      },
      y: {
        min: 8.63, max: 13.87,
        afterBuildTicks: s => { s.ticks = bYTicks.map(v => ({ value: v })); },
        afterFit: s => { s.width = 32; s.paddingTop = 0; s.paddingBottom = 0; },
        ticks: { callback: v => v.toFixed(1), font: { size: 6.6 }, padding: 2, autoSkip: false },
        grid: axisGrid,
        border: { display: false },
        title: { display: true, text: ['PCNA, mRNA expression (RNA seq V2', 'RSEM) (log)'],
                 font: { size: 5.5 }, padding: { top: 2, bottom: 0 } }
      }
    }
  },
  plugins: [framePlugin, boxPlugin, legendPlugin]
});

/* ------------------------------------------------------------------ */
/*  Kaplan-Meier panels a, d, e, f                                     */
/* ------------------------------------------------------------------ */

kmChart([41, 41, 199, 157], 25, 17, { hi: aHi, low: aLow, x: [0, 260], y: [-2.8, 104.6], xTicks: ticks240by20,
  yLabels: true, font: 5, titleFont: 6.2, legend: [56, 7], labels: ['Signature Hi', 'Signature Low', 'P: 0.0131'] });
kmChart([41, 189, 199, 306], 25, 18, { hi: dHi, low: dLow, x: [0, 260], y: [-2.7, 102.3], xTicks: ticks240by20,
  yLabels: true, font: 5, titleFont: 6.2, legend: [56, 5], labels: ['PCNA Hi', 'PCNA Low', 'P: 0.0144'] });
kmChart([252, 192, 412, 306], 22, 18, { hi: eHi, low: eLow, x: [-1.5, 263], y: [-4, 101], xTicks: ticks240by20,
  yLabels: true, font: 5, titleFont: 6.2, legend: [67, 2], labels: ['Signature & PCNA Hi', 'Signature & PCNA Low', 'P: 1.018e-4'] });

kmChart([39, 349, 172, 413], 21, 17, { hi: brainHi, low: brainLow, x: [-1.5, 203], y: [-4.8, 108.3], xTicks: ticks200by20,
  yLabels: true, font: 4.4, titleFont: 5, legend: [43, 5], labels: ['Signature Hi', 'Signature Low', 'P: 0.00228'] });
kmChart([182, 349, 322, 413], 4, 17, { hi: colorectalHi, low: colorectalLow, x: [-1.2, 163.5], y: [-4.8, 108.3], xTicks: ticks160by20,
  yLabels: false, font: 4.4, titleFont: 5, legend: [50, 5], labels: ['Signature Hi', 'Signature Low', 'P: 0.00713'] });
kmChart([328, 349, 470, 413], 4, 17, { hi: stomachHi, low: stomachLow, x: [-0.9, 129], y: [-4.8, 108.3], xTicks: ticks120by20,
  yLabels: false, font: 4.4, titleFont: 5, legend: [57, 6], labels: ['Signature Hi', 'Signature low', 'P: 0.0149'] });
kmChart([483, 349, 625, 443], 4, 17, { hi: renalHi, low: renalLow, x: [-1.2, 166], y: [-3.5, 105], xTicks: ticks160by20,
  yLabels: false, font: 4.4, titleFont: 5, legend: [52, 6], labels: ['Signature Hi', 'Signature Low', 'P: 0.0145'] });
kmChart([649, 403, 787, 497], 19, 14, { hi: liverHi, low: liverLow, x: [0, 134], y: [-4.8, 107], xTicks: ticks130by10,
  yLabels: true, font: 4.4, titleFont: 5, legend: [45, 9], labels: ['Signature Hi', 'Signature Low', 'P: 0.0104'] });
kmChart([42, 471, 175, 565], 25, 19, { hi: melanomaHi, low: melanomaLow, x: [-3, 416], y: [-3.1, 103.7], xTicks: ticks400by50,
  yLabels: true, font: 4.6, titleFont: 5.6, legend: [52, 16], labels: ['Signature Hi', 'Signature Low', 'P: 0.0204'] });
kmChart([185, 471, 323, 565], 4, 19, { hi: endometrialHi, low: endometrialLow, x: [-3.6, 245], y: [-3.1, 103.7], xTicks: ticks240by20,
  yLabels: false, font: 4.6, titleFont: 5.6, legend: [49, 16], labels: ['Signature Hi', 'Signature Low', 'P: 0.0149'] });
kmChart([332, 471, 470, 565], 4, 19, { hi: ovarianHi, low: ovarianLow, x: [-1.4, 191], y: [-3.1, 103.7], xTicks: ticks180by20,
  yLabels: false, font: 4.6, titleFont: 5.6, legend: [52, 16], labels: ['Signature Hi', 'Signature Low', 'P: 7.845e-4'] });
kmChart([487, 471, 629, 565], 4, 19, { hi: prostateHi, low: prostateLow, x: [-1.3, 183], y: [-3.1, 103.7], xTicks: ticks180by20,
  yLabels: false, font: 4.6, titleFont: 5.6, legend: [49, 17], labels: ['Signature Hi', 'Signature Low', 'P: 0.0476'] });
</script>
</body>
</html>
